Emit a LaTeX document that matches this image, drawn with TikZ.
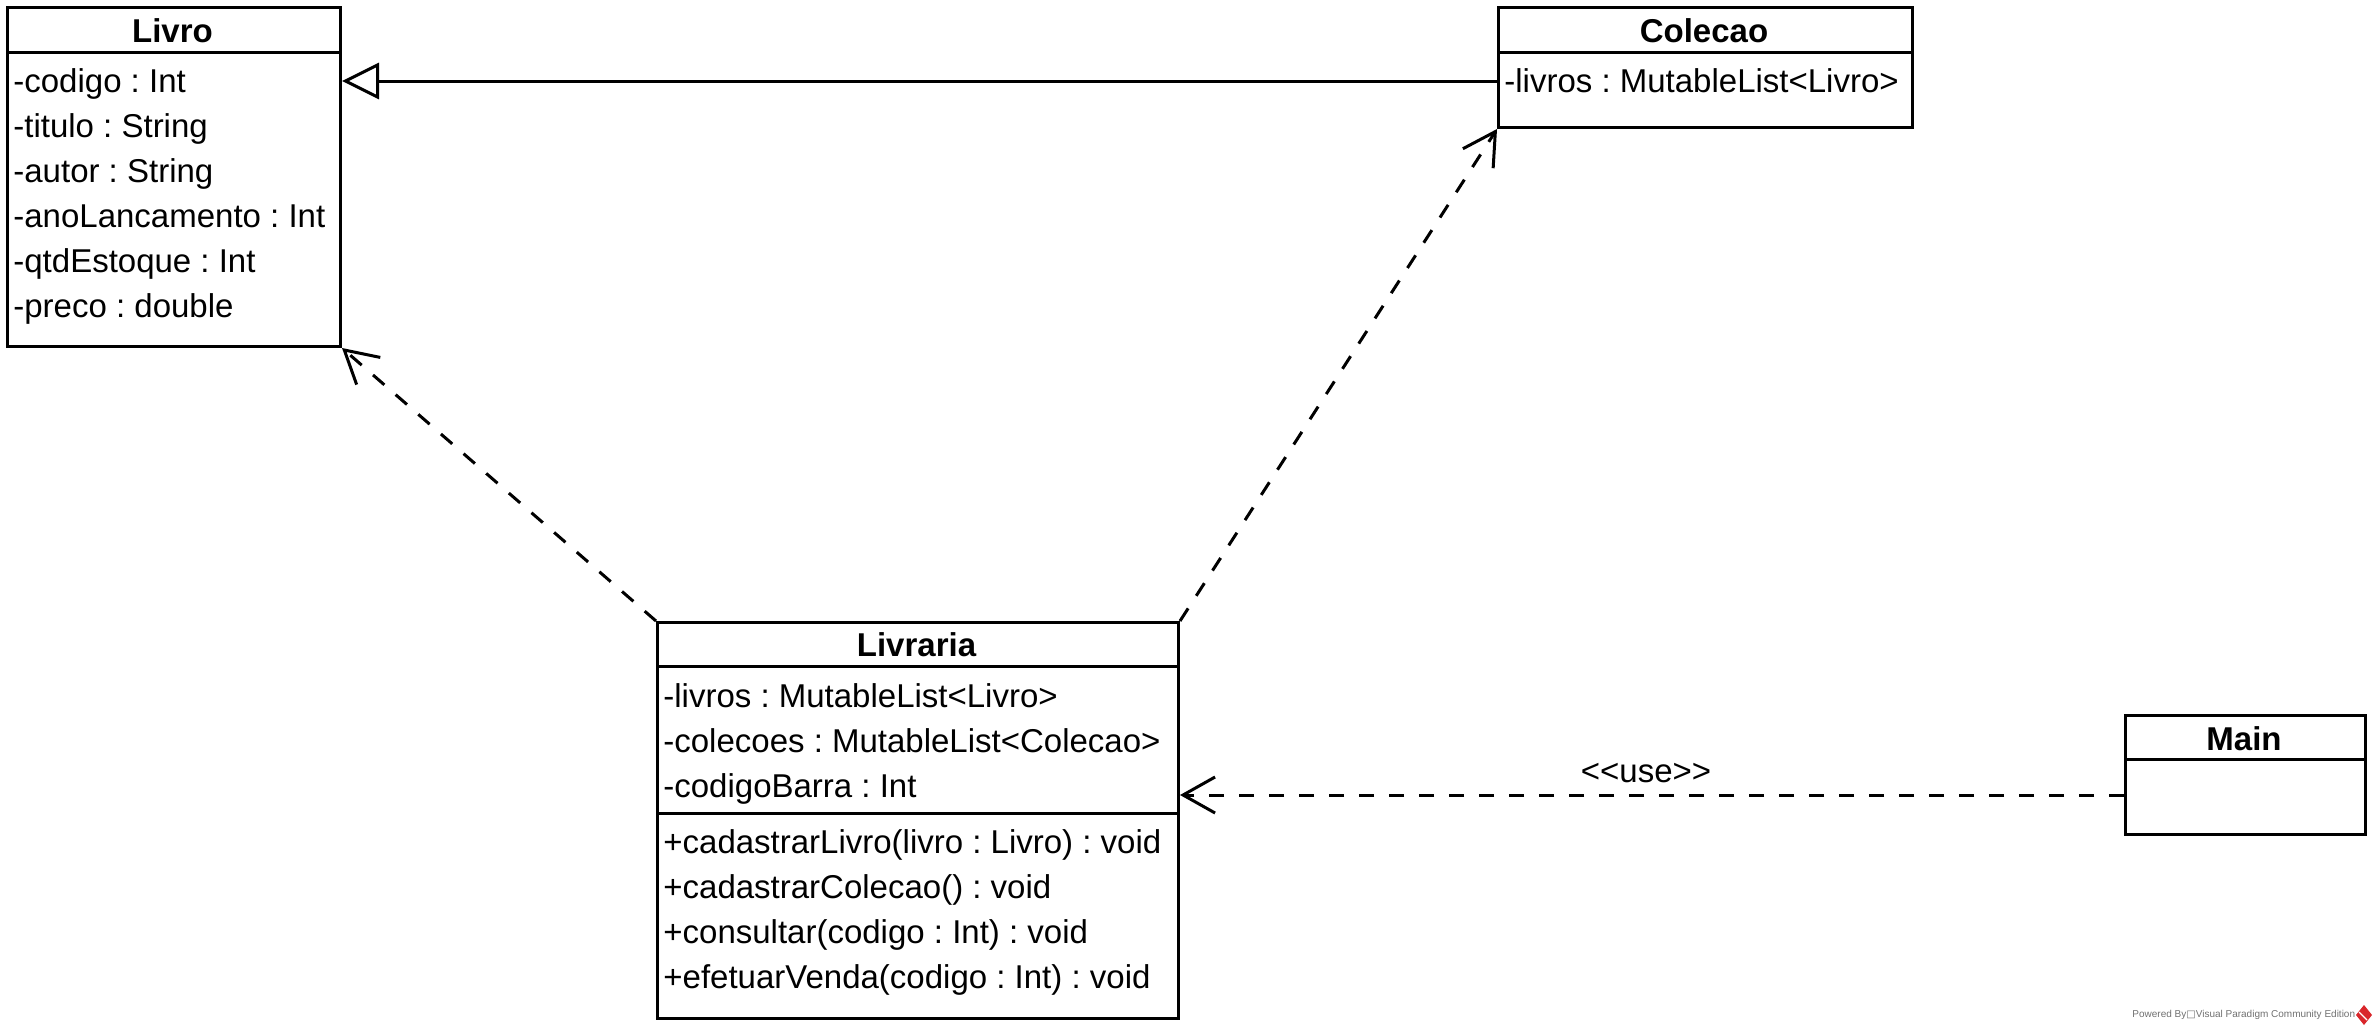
\documentclass[tikz,border=0pt]{standalone}
\usepackage{fontspec}
\setmainfont{Liberation Sans}
\newfontfamily\symfont{DejaVu Sans}
\usetikzlibrary{arrows.meta,calc}
\definecolor{vpred}{HTML}{D9262B}
\definecolor{vpgray}{HTML}{707070}
\frenchspacing
\begin{document}
\begin{tikzpicture}[x=0.5pt,y=-0.5pt,
  box/.style={draw, line width=1.5pt, inner sep=0pt, anchor=north west},
  txt/.style={anchor=base west, inner sep=0pt, font=\fontsize{16.5}{20}\selectfont},
  ttl/.style={anchor=base, inner sep=0pt, font=\fontsize{16.5}{20}\selectfont\bfseries},
  sepline/.style={line width=1.5pt},
  dep/.style={line width=1.5pt, dash pattern=on 7.5pt off 7.5pt, -{Straight Barb[length=16pt,width=18pt]}},
  gen/.style={line width=1.5pt, -{Triangle[open,length=18.5pt,width=18pt,fill=white]}}]

\useasboundingbox (0,0) rectangle (2376,1029);

% ---- Livro ----
\node[box, minimum width=166.5pt, minimum height=169.5pt] (livro) at (6,6) {};
\draw[sepline] (livro.north west |- 0,52) -- (livro.north east |- 0,52);
\node[ttl] (livroT) at (172.5,42) {Livro};
\node[txt] (livro1) at (13,92) {-codigo : Int};
\node[txt] (livro2) at (13,137) {-titulo : String};
\node[txt] (livro3) at (13,182) {-autor : String};
\node[txt] (livro4) at (13,227) {-anoLancamento : Int};
\node[txt] (livro5) at (13,272) {-qtdEstoque : Int};
\node[txt] (livro6) at (13,317) {-preco : double};

% ---- Colecao ----
\node[box, minimum width=207pt, minimum height=60pt] (colecao) at (1497,6) {};
\draw[sepline] (colecao.north west |- 0,52) -- (colecao.north east |- 0,52);
\node[ttl] (colecaoT) at (1704,42) {Colecao};
\node[txt] (colecao1) at (1504,92) {-livros : MutableList<Livro>};

% ---- Livraria ----
\node[box, minimum width=260.5pt, minimum height=198pt] (livraria) at (656,621) {};
\draw[sepline] (livraria.north west |- 0,666) -- (livraria.north east |- 0,666);
\draw[sepline] (livraria.north west |- 0,813) -- (livraria.north east |- 0,813);
\node[ttl] (livrariaT) at (916.5,656) {Livraria};
\node[txt] (livraria1) at (663,707) {-livros : MutableList<Livro>};
\node[txt] (livraria2) at (663,752) {-colecoes : MutableList<Colecao>};
\node[txt] (livraria3) at (663,797) {-codigoBarra : Int};
\node[txt] (livraria4) at (663,853) {+cadastrarLivro(livro : Livro) : void};
\node[txt] (livraria5) at (663,898) {+cadastrarColecao() : void};
\node[txt] (livraria6) at (663,943) {+consultar(codigo : Int) : void};
\node[txt] (livraria7) at (663,988) {+efetuarVenda(codigo : Int) : void};

% ---- Main ----
\node[box, minimum width=120pt, minimum height=59.5pt] (main) at (2124,714) {};
\draw[sepline] (main.north west |- 0,759) -- (main.north east |- 0,759);
\node[ttl] (mainT) at (2244,750) {Main};

% ---- connectors ----
\coordinate (genS) at (colecao.west |- 0,81);
\draw[gen] (genS) -- (livro.east |- genS);
\draw[dep] (livraria.north west) -- (livro.south east);
\draw[dep] (livraria.north east) -- (colecao.south west);
\coordinate (useS) at (main.west |- 0,795);
\draw[dep] (useS) -- (livraria.east |- useS);
\node[txt, anchor=base] (useL) at (1646,782) {<\kern0pt<use>\kern0pt>};

% ---- footer ----
\node[anchor=base west, inner sep=0pt, font=\fontsize{5}{6}\selectfont, text=vpgray] (powered) at (2132,1017) {Powered By{\symfont □}Visual Paradigm Community Edition};
\fill[vpred] (2364,1005) -- (2372,1015) -- (2364,1025) -- (2356,1015) -- cycle;
\draw[white, line width=0.6pt] (2359,1012) -- (2367,1020);
\end{tikzpicture}
\end{document}
